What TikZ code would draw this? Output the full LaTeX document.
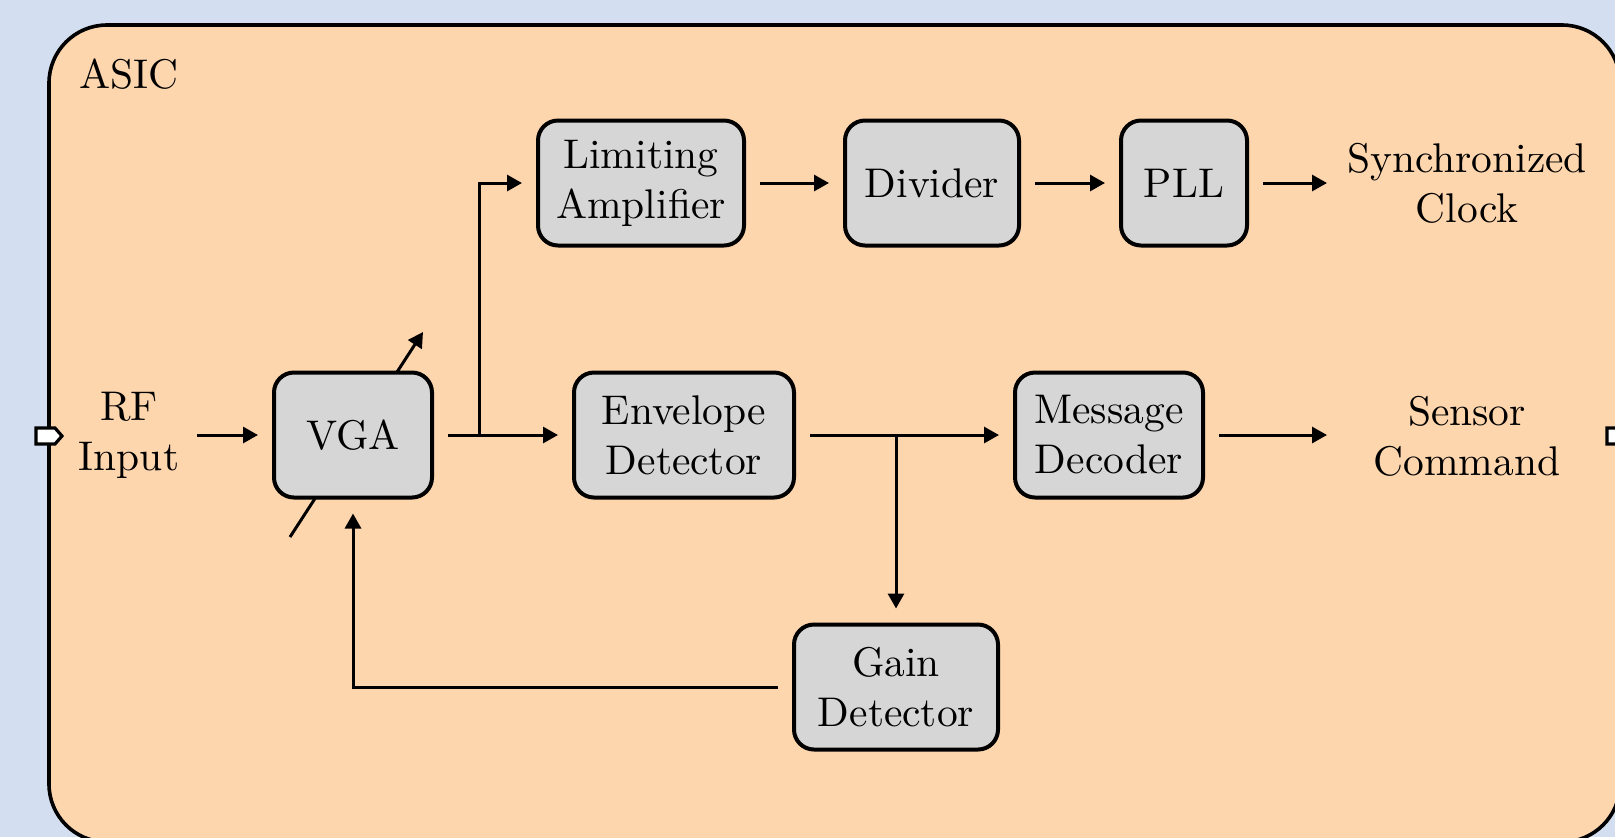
\documentclass[tikz,border=0pt]{standalone}
\usepackage{fontspec}
\setmainfont{lmroman10-regular.otf}
\usetikzlibrary{arrows.meta}
\definecolor{bgblue}{HTML}{D3DFF0}
\definecolor{asicfill}{HTML}{FDD6AE}
\definecolor{blockfill}{HTML}{D6D6D6}
\begin{document}
\begin{tikzpicture}[x=0.5pt,y=-0.5pt,
 block/.style={draw=black,fill=blockfill,line width=2pt,rounded corners=10pt,font=\huge,align=center,minimum height=62.5pt,inner sep=2pt,outer sep=8pt},
 plain/.style={font=\huge,align=center,inner sep=1pt,outer sep=8pt},
 conn/.style={line width=1.5pt,-{Triangle[length=7.5pt,width=8pt]}},
 port/.style={draw=black,fill=white,line width=1.6pt}]
\fill[bgblue] (0,0) rectangle (1615,837);
\useasboundingbox (0,0) rectangle (1615,837);
\begin{scope}
\clip (0,0) rectangle (1615,837);
\draw[fill=asicfill,line width=1.8pt,rounded corners=29pt] (49,25) rectangle (1620,842);
\draw[port] (36,428) -- (55,428) -- (62,436) -- (55,444) -- (36,444) -- cycle;
\draw[port] (1607,428) -- (1626,428) -- (1633,436) -- (1626,444) -- (1607,444) -- cycle;
\end{scope}
\node[plain,anchor=west,inner sep=0pt,outer sep=0pt] (asic) at (79,74) {ASIC};
\coordinate (ga) at (290,537);
\coordinate (gb) at (423,332);
\draw[conn] (ga) -- (gb);
\node[plain,minimum width=51pt] (rf) at (129,435) {RF\\Input};
\node[block,minimum width=79pt] (vga) at (353,435) {VGA};
\node[block,minimum width=103pt] (la) at (641,183) {Limiting\\Amplifier};
\node[block,minimum width=87pt] (div) at (932,183) {Divider};
\node[block,minimum width=63pt] (pll) at (1184,183) {PLL};
\node[plain,minimum width=124pt] (clk) at (1467,183) {Synchronized\\Clock};
\node[block,minimum width=110pt] (env) at (684,435) {Envelope\\Detector};
\node[block,minimum width=94pt] (msg) at (1109,435) {Message\\Decoder};
\node[plain,minimum width=124pt] (cmd) at (1467,436) {Sensor\\Command};
\node[block,minimum width=102pt] (gain) at (896,687) {Gain\\Detector};
\draw[conn] (rf) -- (vga);
\draw[conn] (vga) -- (env);
\coordinate (b1) at (479,435);
\draw[conn] (b1) |- (la.west);
\draw[conn] (la) -- (div);
\draw[conn] (div) -- (pll);
\draw[conn] (pll) -- (clk);
\draw[conn] (env) -- (msg);
\draw[conn] (msg.east) -- (cmd.west |- msg.east);
\coordinate (b2) at (896,435);
\draw[conn] (b2) -- (gain);
\draw[conn] (gain.west) -| (vga.south);
\end{tikzpicture}
\end{document}
